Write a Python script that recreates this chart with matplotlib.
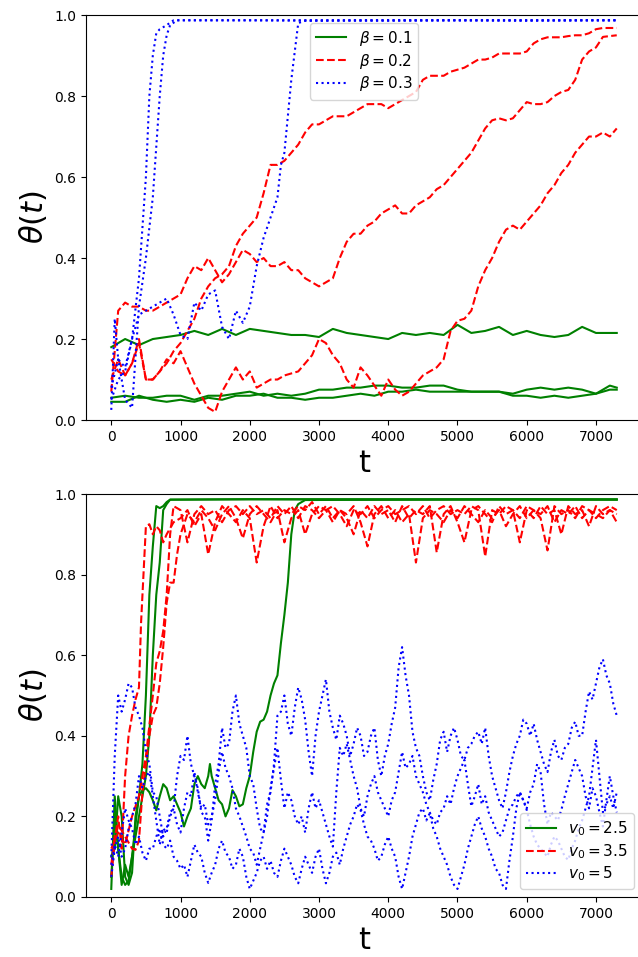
import matplotlib
matplotlib.use("Agg")
import matplotlib.pyplot as plt

# ---------------- top panel: beta runs ----------------
t_g = [0, 200, 400, 600, 800, 1000, 1200, 1400, 1600, 1800, 2000, 2200, 2400, 2600,
       2800, 3000, 3200, 3400, 3600, 3800, 4000, 4200, 4400, 4600, 4800, 5000, 5200,
       5400, 5600, 5800, 6000, 6200, 6400, 6600, 6800, 7000, 7200, 7300]
beta1_a = [0.18, 0.20, 0.185, 0.20, 0.205, 0.21, 0.22, 0.21, 0.225, 0.21, 0.225, 0.22, 0.215, 0.21,
           0.21, 0.205, 0.225, 0.215, 0.21, 0.205, 0.20, 0.215, 0.21, 0.215, 0.21, 0.235, 0.215,
           0.22, 0.23, 0.21, 0.22, 0.21, 0.205, 0.21, 0.23, 0.215, 0.215, 0.215]
beta1_b = [0.055, 0.06, 0.055, 0.055, 0.06, 0.06, 0.05, 0.06, 0.06, 0.065, 0.07, 0.06, 0.065, 0.06,
           0.065, 0.075, 0.075, 0.08, 0.08, 0.085, 0.085, 0.08, 0.08, 0.085, 0.085, 0.075, 0.07,
           0.07, 0.07, 0.065, 0.075, 0.08, 0.075, 0.08, 0.075, 0.065, 0.085, 0.08]
beta1_c = [0.045, 0.045, 0.06, 0.05, 0.045, 0.05, 0.045, 0.055, 0.05, 0.06, 0.06, 0.065, 0.055, 0.055,
           0.05, 0.055, 0.055, 0.06, 0.065, 0.06, 0.07, 0.07, 0.075, 0.07, 0.07, 0.07, 0.07,
           0.07, 0.07, 0.06, 0.06, 0.055, 0.06, 0.055, 0.06, 0.065, 0.075, 0.075]

t_r = list(range(0, 7301, 100))
beta2_a = [0.10, 0.15, 0.11, 0.14, 0.20, 0.10, 0.10, 0.12, 0.14, 0.17,
           0.19, 0.22, 0.25, 0.30, 0.33, 0.35, 0.36, 0.38, 0.43, 0.46,
           0.48, 0.50, 0.56, 0.63, 0.63, 0.64, 0.66, 0.68, 0.71, 0.73,
           0.73, 0.74, 0.75, 0.75, 0.75, 0.76, 0.77, 0.78, 0.78, 0.78,
           0.77, 0.78, 0.79, 0.80, 0.81, 0.84, 0.85, 0.85, 0.85, 0.86,
           0.865, 0.87, 0.88, 0.89, 0.89, 0.895, 0.905, 0.905, 0.905, 0.905,
           0.91, 0.93, 0.94, 0.945, 0.945, 0.945, 0.948, 0.95, 0.95, 0.955,
           0.965, 0.968, 0.968, 0.968]
beta2_b = [0.07, 0.27, 0.29, 0.28, 0.28, 0.27, 0.27, 0.28, 0.29, 0.30,
           0.31, 0.35, 0.38, 0.37, 0.40, 0.37, 0.34, 0.36, 0.39, 0.42,
           0.41, 0.39, 0.40, 0.38, 0.38, 0.39, 0.37, 0.37, 0.35, 0.34,
           0.33, 0.34, 0.35, 0.40, 0.44, 0.46, 0.46, 0.48, 0.49, 0.51,
           0.52, 0.53, 0.51, 0.51, 0.53, 0.54, 0.55, 0.57, 0.58, 0.60,
           0.62, 0.64, 0.66, 0.69, 0.72, 0.74, 0.745, 0.74, 0.745, 0.765,
           0.785, 0.78, 0.78, 0.785, 0.80, 0.81, 0.815, 0.84, 0.89, 0.91,
           0.92, 0.946, 0.948, 0.95]
beta2_c = [0.15, 0.12, 0.11, 0.14, 0.19, 0.10, 0.10, 0.12, 0.15, 0.14,
           0.17, 0.13, 0.09, 0.06, 0.03, 0.02, 0.07, 0.10, 0.13, 0.10,
           0.12, 0.08, 0.09, 0.10, 0.10, 0.11, 0.115, 0.12, 0.14, 0.16,
           0.20, 0.19, 0.16, 0.14, 0.10, 0.08, 0.13, 0.11, 0.085, 0.06,
           0.10, 0.075, 0.06, 0.07, 0.09, 0.11, 0.12, 0.13, 0.15, 0.22,
           0.245, 0.25, 0.27, 0.33, 0.37, 0.40, 0.44, 0.47, 0.48, 0.47,
           0.49, 0.51, 0.53, 0.56, 0.58, 0.61, 0.63, 0.66, 0.68, 0.70,
           0.70, 0.71, 0.70, 0.72]

t_b3a = [0, 100, 200, 300, 400, 500, 550, 600, 650, 700, 800, 900, 2000, 3000, 4000, 5000, 6000, 7000, 7300]
beta3_a = [0.05, 0.10, 0.12, 0.20, 0.35, 0.60, 0.80, 0.90, 0.955, 0.965, 0.975, 0.987, 0.987, 0.986,
           0.987, 0.987, 0.986, 0.987, 0.987]
t_b3b = [0, 100, 200, 300, 400, 500, 600, 700, 750, 800, 850, 950, 2000, 3000, 4000, 5000, 6000, 7000, 7300]
beta3_b = [0.08, 0.15, 0.05, 0.03, 0.28, 0.40, 0.55, 0.80, 0.90, 0.95, 0.975, 0.987, 0.987, 0.987,
           0.986, 0.987, 0.987, 0.987, 0.987]
t_b3c = [0, 50, 100, 200, 300, 400, 500, 600, 700, 800, 900, 1000, 1100, 1200, 1300, 1400, 1500,
         1600, 1700, 1800, 1900, 2000, 2100, 2200, 2300, 2400, 2450, 2500, 2600, 2700, 2800,
         3500, 4500, 5500, 6500, 7300]
beta3_c = [0.025, 0.25, 0.15, 0.13, 0.20, 0.26, 0.27, 0.28, 0.29, 0.30, 0.26, 0.21, 0.20, 0.29,
           0.27, 0.31, 0.32, 0.23, 0.20, 0.27, 0.24, 0.28, 0.38, 0.45, 0.50, 0.55, 0.63, 0.66,
           0.84, 0.98, 0.986, 0.987, 0.987, 0.987, 0.987, 0.987]

# ---------------- bottom panel: v0 runs ----------------
t_v25a = [0, 50, 100, 150, 200, 250, 300, 350, 400, 450, 500, 550, 600, 650, 700, 750, 800, 850,
          2000, 4000, 6000, 7300]
v25_a = [0.10, 0.12, 0.25, 0.20, 0.05, 0.03, 0.06, 0.20, 0.25, 0.33, 0.50, 0.75, 0.87, 0.97,
         0.965, 0.97, 0.98, 0.986, 0.987, 0.986, 0.987, 0.986]
t_v25b = [0, 50, 100, 150, 200, 250, 300, 350, 400, 450, 500, 550, 600, 650, 700, 750, 800, 850,
          2000, 4000, 6000, 7300]
v25_b = [0.05, 0.20, 0.12, 0.05, 0.03, 0.04, 0.10, 0.15, 0.20, 0.25, 0.30, 0.40, 0.60, 0.75,
         0.83, 0.96, 0.975, 0.986, 0.987, 0.987, 0.986, 0.986]
t_v25c = [0, 50, 100, 150, 200, 250, 300, 350, 400, 450, 500, 550, 600, 650, 700, 750, 800, 850,
          900, 950, 1000, 1050, 1100, 1150, 1200, 1250, 1300, 1350, 1400, 1425, 1450, 1500, 1550,
          1600, 1650, 1700, 1750, 1800, 1850, 1900, 1950, 2000, 2050, 2100, 2150, 2200, 2250,
          2300, 2350, 2400, 2450, 2500, 2550, 2600, 2650, 2700, 2800, 4000, 5500, 7300]
v25_c = [0.02, 0.25, 0.12, 0.03, 0.08, 0.05, 0.10, 0.18, 0.25, 0.265, 0.27, 0.26, 0.24, 0.215,
         0.25, 0.28, 0.27, 0.24, 0.25, 0.23, 0.21, 0.175, 0.20, 0.22, 0.28, 0.30, 0.28, 0.27,
         0.30, 0.33, 0.30, 0.27, 0.24, 0.23, 0.20, 0.22, 0.265, 0.25, 0.225, 0.23, 0.27, 0.30,
         0.36, 0.41, 0.435, 0.44, 0.46, 0.50, 0.53, 0.55, 0.63, 0.70, 0.78, 0.90, 0.96, 0.975,
         0.985, 0.986, 0.987, 0.987]

t_v35_late = list(range(1000, 7301, 100))
t_v35a = [0, 50, 100, 150, 200, 250, 300, 350, 400, 430, 500, 550, 600, 650, 700, 750, 800, 900]
v35_a = [0.05, 0.14, 0.20, 0.12, 0.30, 0.40, 0.45, 0.49, 0.52, 0.68, 0.92, 0.925, 0.90, 0.92,
         0.91, 0.88, 0.90, 0.93,
         0.94, 0.96, 0.92, 0.95, 0.85, 0.93, 0.97, 0.95, 0.93, 0.96,
         0.94, 0.83, 0.92, 0.97, 0.94, 0.96, 0.95, 0.97, 0.96, 0.98,
         0.95, 0.97, 0.94, 0.96, 0.95, 0.97, 0.93, 0.87, 0.95, 0.97,
         0.94, 0.96, 0.93, 0.95, 0.83, 0.94, 0.96, 0.95, 0.93, 0.96,
         0.94, 0.97, 0.95, 0.93, 0.96, 0.94, 0.96, 0.92, 0.95, 0.97,
         0.94, 0.96, 0.95, 0.97, 0.93, 0.96, 0.95, 0.97, 0.94, 0.96,
         0.95, 0.94, 0.96, 0.93]
t_v35b = [0, 50, 100, 200, 300, 350, 400, 450, 500, 550, 600, 650, 700, 750, 800, 850, 900, 950]
v35_b = [0.08, 0.15, 0.18, 0.15, 0.12, 0.117, 0.14, 0.26, 0.33, 0.40, 0.45, 0.47, 0.53, 0.62,
         0.73, 0.78, 0.78, 0.85,
         0.90, 0.95, 0.93, 0.96, 0.94, 0.91, 0.95, 0.97, 0.94, 0.89,
         0.95, 0.97, 0.95, 0.93, 0.96, 0.88, 0.94, 0.96, 0.90, 0.95,
         0.97, 0.96, 0.93, 0.96, 0.94, 0.90, 0.96, 0.94, 0.97, 0.95,
         0.96, 0.93, 0.97, 0.94, 0.96, 0.95, 0.97, 0.855, 0.95, 0.97,
         0.93, 0.88, 0.96, 0.97, 0.95, 0.93, 0.97, 0.95, 0.96, 0.88,
         0.96, 0.94, 0.97, 0.95, 0.96, 0.90, 0.97, 0.95, 0.96, 0.92,
         0.97, 0.95, 0.96, 0.95]
t_v35c = [0, 100, 200, 300, 400, 500, 600, 650, 700, 750, 800, 850, 900]
v35_c = [0.12, 0.16, 0.13, 0.20, 0.25, 0.35, 0.50, 0.58, 0.61, 0.66, 0.75, 0.90, 0.97,
         0.96, 0.88, 0.95, 0.97, 0.95, 0.96, 0.93, 0.96, 0.97, 0.95,
         0.97, 0.95, 0.96, 0.94, 0.97, 0.95, 0.97, 0.94, 0.97, 0.96,
         0.94, 0.96, 0.97, 0.95, 0.92, 0.96, 0.95, 0.97, 0.94, 0.96,
         0.97, 0.95, 0.96, 0.97, 0.95, 0.97, 0.94, 0.96, 0.97, 0.95,
         0.96, 0.95, 0.97, 0.96, 0.845, 0.96, 0.95, 0.97, 0.96, 0.94,
         0.97, 0.96, 0.94, 0.86, 0.97, 0.95, 0.96, 0.94, 0.97, 0.96,
         0.94, 0.96, 0.97, 0.96]

t_v5 = list(range(0, 7301, 50))
v5_a = [0.10, 0.35, 0.50, 0.46, 0.49, 0.53, 0.52, 0.47, 0.45, 0.42, 0.36, 0.33, 0.26, 0.25, 0.20, 0.15, 0.17, 0.21, 0.22, 0.30,
        0.35, 0.34, 0.40, 0.33, 0.30, 0.27, 0.21, 0.20, 0.14, 0.19, 0.28, 0.33, 0.42, 0.37, 0.38, 0.46, 0.50, 0.43, 0.40, 0.37,
        0.30, 0.28, 0.22, 0.17, 0.16, 0.23, 0.26, 0.33, 0.45, 0.46, 0.50, 0.43, 0.40, 0.47, 0.52, 0.49, 0.44, 0.36, 0.30, 0.40,
        0.46, 0.50, 0.54, 0.46, 0.42, 0.39, 0.45, 0.43, 0.40, 0.35, 0.38, 0.42, 0.40, 0.35, 0.36, 0.40, 0.42, 0.34, 0.30, 0.35,
        0.38, 0.43, 0.47, 0.57, 0.62, 0.55, 0.50, 0.41, 0.37, 0.35, 0.30, 0.26, 0.24, 0.29, 0.33, 0.39, 0.41, 0.36, 0.40, 0.42,
        0.39, 0.35, 0.34, 0.37, 0.38, 0.40, 0.41, 0.38, 0.42, 0.35, 0.30, 0.27, 0.24, 0.22, 0.26, 0.31, 0.35, 0.38, 0.40, 0.44,
        0.43, 0.40, 0.43, 0.39, 0.36, 0.33, 0.31, 0.36, 0.39, 0.35, 0.34, 0.37, 0.38, 0.42, 0.435, 0.40, 0.40, 0.46, 0.51, 0.49,
        0.53, 0.57, 0.59, 0.55, 0.53, 0.48, 0.45]
v5_b = [0.05, 0.12, 0.15, 0.10, 0.12, 0.17, 0.20, 0.23, 0.30, 0.27, 0.30, 0.31, 0.25, 0.19, 0.13, 0.17, 0.16, 0.20, 0.22, 0.18,
        0.16, 0.22, 0.26, 0.25, 0.31, 0.26, 0.22, 0.23, 0.18, 0.20, 0.24, 0.31, 0.36, 0.32, 0.30, 0.27, 0.22, 0.20, 0.175, 0.15,
        0.12, 0.11, 0.08, 0.12, 0.16, 0.20, 0.27, 0.32, 0.37, 0.29, 0.22, 0.26, 0.24, 0.20, 0.18, 0.20, 0.16, 0.22, 0.26, 0.22,
        0.24, 0.21, 0.18, 0.15, 0.125, 0.26, 0.37, 0.35, 0.38, 0.34, 0.30, 0.27, 0.22, 0.20, 0.25, 0.28, 0.30, 0.26, 0.24, 0.22,
        0.20, 0.24, 0.26, 0.31, 0.36, 0.32, 0.33, 0.35, 0.30, 0.28, 0.26, 0.23, 0.21, 0.19, 0.18, 0.21, 0.22, 0.25, 0.23, 0.27,
        0.30, 0.32, 0.34, 0.28, 0.225, 0.25, 0.28, 0.23, 0.25, 0.21, 0.19, 0.17, 0.15, 0.16, 0.19, 0.22, 0.23, 0.25, 0.26, 0.24,
        0.22, 0.26, 0.28, 0.33, 0.31, 0.23, 0.18, 0.21, 0.20, 0.19, 0.216, 0.25, 0.28, 0.31, 0.34, 0.32, 0.30, 0.25, 0.22, 0.27,
        0.25, 0.21, 0.175, 0.24, 0.30, 0.25, 0.21]
v5_c = [0.08, 0.13, 0.10, 0.16, 0.22, 0.19, 0.17, 0.13, 0.15, 0.11, 0.09, 0.12, 0.12, 0.15, 0.17, 0.13, 0.12, 0.14, 0.10, 0.09,
        0.07, 0.08, 0.05, 0.09, 0.13, 0.11, 0.10, 0.06, 0.035, 0.06, 0.08, 0.12, 0.14, 0.11, 0.10, 0.07, 0.08, 0.12, 0.10, 0.05,
        0.02, 0.04, 0.06, 0.09, 0.10, 0.07, 0.09, 0.06, 0.05, 0.09, 0.12, 0.10, 0.08, 0.05, 0.034, 0.07, 0.10, 0.08, 0.06, 0.10,
        0.12, 0.07, 0.034, 0.06, 0.10, 0.11, 0.08, 0.12, 0.15, 0.18, 0.20, 0.23, 0.216, 0.18, 0.15, 0.14, 0.12, 0.09, 0.10, 0.13,
        0.15, 0.12, 0.10, 0.05, 0.02, 0.06, 0.10, 0.15, 0.18, 0.21, 0.22, 0.19, 0.208, 0.17, 0.15, 0.12, 0.10, 0.08, 0.05, 0.03,
        0.02, 0.05, 0.08, 0.12, 0.15, 0.18, 0.20, 0.17, 0.15, 0.12, 0.10, 0.07, 0.06, 0.03, 0.02, 0.09, 0.15, 0.22, 0.26, 0.24,
        0.216, 0.18, 0.15, 0.13, 0.12, 0.11, 0.10, 0.13, 0.15, 0.14, 0.12, 0.10, 0.092, 0.12, 0.14, 0.17, 0.19, 0.22, 0.25, 0.32,
        0.39, 0.30, 0.21, 0.23, 0.25, 0.22, 0.26]

fig = plt.figure(figsize=(6.38, 9.57), dpi=100)
ax1 = fig.add_axes([0.1348, 0.5611, 0.8715, 0.4232])
ax2 = fig.add_axes([0.1348, 0.0627, 0.8715, 0.4211])

lw = 1.5
ax1.plot(t_g, beta1_a, color='green', lw=lw, label=r'$\beta=0.1$')
ax1.plot(t_g, beta1_b, color='green', lw=lw)
ax1.plot(t_g, beta1_c, color='green', lw=lw)
ax1.plot(t_r, beta2_a, color='red', ls='--', lw=lw, label=r'$\beta=0.2$')
ax1.plot(t_r, beta2_b, color='red', ls='--', lw=lw)
ax1.plot(t_r, beta2_c, color='red', ls='--', lw=lw)
ax1.plot(t_b3a, beta3_a, color='blue', ls=':', lw=lw, label=r'$\beta=0.3$')
ax1.plot(t_b3b, beta3_b, color='blue', ls=':', lw=lw)
ax1.plot(t_b3c, beta3_c, color='blue', ls=':', lw=lw)

ax2.plot(t_v25a, v25_a, color='green', lw=lw, label=r'$v_0=2.5$')
ax2.plot(t_v25b, v25_b, color='green', lw=lw)
ax2.plot(t_v25c, v25_c, color='green', lw=lw)
ax2.plot(t_v35a + t_v35_late, v35_a, color='red', ls='--', lw=lw, label=r'$v_0=3.5$')
ax2.plot(t_v35b + t_v35_late, v35_b, color='red', ls='--', lw=lw)
ax2.plot(t_v35c + t_v35_late, v35_c, color='red', ls='--', lw=lw)
ax2.plot(t_v5, v5_a, color='blue', ls=':', lw=lw, label=r'$v_0=5$')
ax2.plot(t_v5, v5_b, color='blue', ls=':', lw=lw)
ax2.plot(t_v5, v5_c, color='blue', ls=':', lw=lw)

for ax in (ax1, ax2):
    ax.set_ylim(0, 1)
    ax.set_xticks([0, 1000, 2000, 3000, 4000, 5000, 6000, 7000])
    ax.set_ylabel(r'$\theta(t)$', fontsize=22)
    ax.set_xlabel('t', fontsize=22)

ax1.legend(loc='upper center', fontsize=11, labelspacing=0.25)
ax2.legend(loc='lower right', fontsize=11, labelspacing=0.25)

fig.savefig('out.png', dpi=100)
